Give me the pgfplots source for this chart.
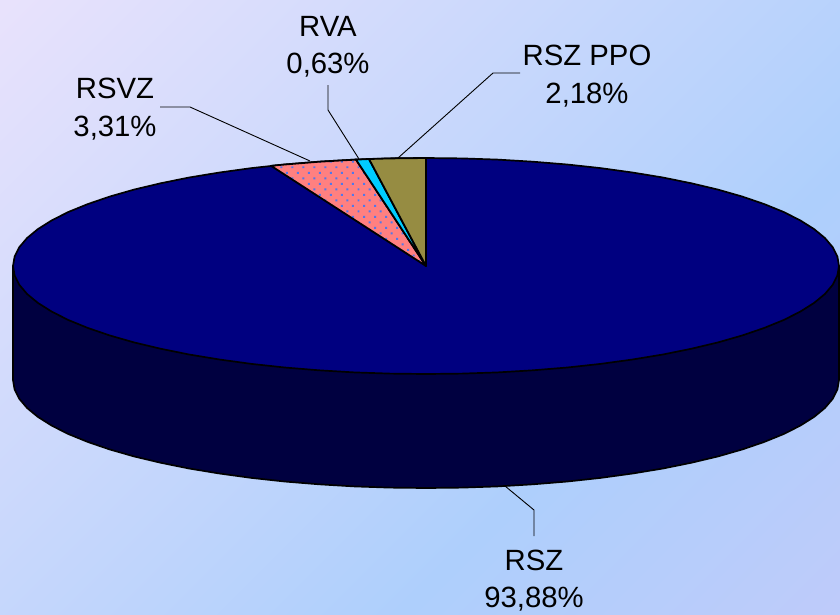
\documentclass[border=0pt]{standalone}
\usepackage{fontspec}
\setmainfont{Liberation Sans}
\usepackage{pgfplots}
\pgfplotsset{compat=1.18}
\usetikzlibrary{patterns.meta}
\definecolor{wallc}{RGB}{0,0,64}
\definecolor{topc}{RGB}{0,0,128}
\definecolor{rsvzc}{RGB}{255,128,128}
\definecolor{rsvzdot}{RGB}{80,120,235}
\definecolor{rvac}{RGB}{0,204,255}
\definecolor{ppoc}{RGB}{150,140,66}
\pgfdeclareverticalshading{bgshade}{100bp}{
  rgb(0bp)=(0.745,0.796,0.98);
  rgb(15bp)=(0.745,0.796,0.98);
  rgb(36bp)=(0.682,0.812,0.988);
  rgb(85bp)=(0.91,0.886,0.988);
  rgb(100bp)=(0.91,0.886,0.988)}
\newcommand{\lab}[3]{\node[anchor=base,inner sep=0pt,font=\fontsize{29.3}{35}\selectfont,text=black] at (axis cs:#1,#2) {#3};}
\begin{document}
\begin{tikzpicture}
\begin{axis}[
  scale only axis, width=840pt, height=614pt,
  xmin=0, xmax=840, ymin=0, ymax=614, y dir=reverse,
  hide axis,
]
\path[shading=bgshade, shading angle=45] (rel axis cs:0,0) rectangle (rel axis cs:1,1);
% side wall
\addplot[fill=wallc, draw=black, line width=1.7pt, line join=round] coordinates {
  (13,266) (13,380) (14.6,389.4) (19.3,398.8) (27.1,408) (37.9,416.9) (51.7,425.6)
  (68.3,434) (87.7,441.9) (109.6,449.4) (134,456.4) (160.5,462.7) (189.1,468.5)
  (219.5,473.5) (251.5,477.9) (284.7,481.5) (319.1,484.3) (354.3,486.4) (390,487.6)
  (426,488) (462,487.6) (497.7,486.4) (532.9,484.3) (567.3,481.5) (600.5,477.9)
  (632.5,473.5) (662.9,468.5) (691.5,462.7) (718,456.4) (742.4,449.4) (764.3,441.9)
  (783.7,434) (800.3,425.6) (814.1,416.9) (824.9,408) (832.7,398.8) (837.4,389.4)
  (839,380) (839,266)} -- cycle;
% top face, RSZ
\addplot[fill=topc, draw=black, line width=1.7pt, line join=round] coordinates {
  (839,266) (837.4,256.6) (832.7,247.2) (824.9,238) (814.1,229.1) (800.3,220.4)
  (783.7,212) (764.3,204.1) (742.4,196.6) (718,189.6) (691.5,183.3) (662.9,177.5)
  (632.5,172.5) (600.5,168.1) (567.3,164.5) (532.9,161.7) (497.7,159.6) (462,158.4)
  (426,158) (390,158.4) (354.3,159.6) (319.1,161.7) (284.7,164.5) (251.5,168.1)
  (219.5,172.5) (189.1,177.5) (160.5,183.3) (134,189.6) (109.6,196.6) (87.7,204.1)
  (68.3,212) (51.7,220.4) (37.9,229.1) (27.1,238) (19.3,247.2) (14.6,256.6)
  (13,266) (14.6,275.4) (19.3,284.8) (27.1,294) (37.9,302.9) (51.7,311.6)
  (68.3,320) (87.7,327.9) (109.6,335.4) (134,342.4) (160.5,348.7) (189.1,354.5)
  (219.5,359.5) (251.5,363.9) (284.7,367.5) (319.1,370.3) (354.3,372.4) (390,373.6)
  (426,374) (462,373.6) (497.7,372.4) (532.9,370.3) (567.3,367.5) (600.5,363.9)
  (632.5,359.5) (662.9,354.5) (691.5,348.7) (718,342.4) (742.4,335.4) (764.3,327.9)
  (783.7,320) (800.3,311.6) (814.1,302.9) (824.9,294) (832.7,284.8) (837.4,275.4)} -- cycle;
% RSVZ
\addplot[fill=rsvzc, draw=none] coordinates {
  (271,165.8) (284.7,164.5) (319.1,161.7) (356,159.6) (426,266)} -- cycle;
\addplot[pattern={Dots[distance=7.8pt,radius=1.4pt,angle=45]}, pattern color=rsvzdot, draw=black, line width=1.8pt, line join=round] coordinates {
  (271,165.8) (284.7,164.5) (319.1,161.7) (356,159.6) (426,266)} -- cycle;
% RVA
\addplot[fill=rvac, draw=black, line width=1.8pt, line join=round] coordinates {
  (356,159.6) (369,159) (426,266)} -- cycle;
% RSZ PPO
\addplot[fill=ppoc, draw=black, line width=1.8pt, line join=round] coordinates {
  (369,159) (390,158.4) (426,158) (426,266)} -- cycle;
% leader lines
\addplot[black, line width=0.9pt] coordinates {(160,107) (190,107) (310,161)};
\addplot[black, line width=0.9pt] coordinates {(328,85) (328,110) (359,159)};
\addplot[black, line width=0.9pt] coordinates {(520,73) (493,73) (398,158)};
\addplot[black, line width=0.9pt] coordinates {(505,486) (534,510) (534,536)};
% labels
\lab{328}{36}{RVA}
\lab{328}{73}{0,63\%}
\lab{115}{98}{RSVZ}
\lab{115}{136}{3,31\%}
\lab{587}{65}{RSZ PPO}
\lab{587}{103}{2,18\%}
\lab{534}{570}{RSZ}
\lab{534}{607.5}{93,88\%}
\end{axis}
\end{tikzpicture}
\end{document}
